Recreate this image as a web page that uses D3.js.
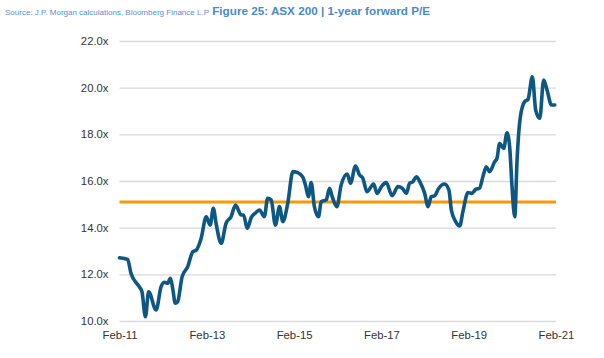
<!DOCTYPE html>
<html><head><meta charset="utf-8">
<script src="https://cdn.jsdelivr.net/npm/d3@7"></script>
<style>
html,body{margin:0;padding:0;background:#fff;}
svg{display:block;font-family:"Liberation Sans",Arial,sans-serif;}
</style></head>
<body>
<svg id="chart" width="604" height="358"></svg>
<script>
const dates = ["2011-02-01","2011-04-10","2011-05-08","2011-07-16","2011-08-08","2011-09-06","2011-10-03","2011-12-04",
"2012-01-15","2012-02-12","2012-03-10","2012-04-02","2012-04-21","2012-05-13","2012-06-02","2012-07-09","2012-08-25","2012-10-06","2012-11-04","2012-12-15",
"2013-01-27","2013-03-01","2013-03-27","2013-04-19","2013-06-01","2013-07-12","2013-08-23","2013-09-29","2013-11-16","2013-12-05",
"2014-01-05","2014-02-08","2014-03-20","2014-04-17","2014-05-28","2014-06-25","2014-07-24","2014-08-29","2014-10-02","2014-10-30","2014-12-10",
"2015-01-22","2015-03-03","2015-04-14","2015-05-07","2015-06-01","2015-06-24","2015-07-21","2015-08-24","2015-09-16","2015-10-28","2015-11-25","2015-12-17",
"2016-01-25","2016-03-01","2016-04-21","2016-05-18","2016-06-29","2016-08-02","2016-08-30","2016-10-03","2016-11-28","2016-12-26",
"2017-02-01","2017-03-13","2017-05-02","2017-06-19","2017-07-25","2017-08-28","2017-09-25","2017-10-22","2017-11-20","2017-12-23",
"2018-01-29","2018-02-26","2018-03-25","2018-04-21","2018-05-27","2018-07-14","2018-08-20","2018-09-09","2018-10-15","2018-11-18","2018-12-15",
"2019-01-27","2019-02-25","2019-04-01","2019-05-03","2019-05-31","2019-06-29","2019-07-26","2019-09-07","2019-09-26","2019-10-18","2019-11-21","2019-12-19",
"2020-01-10","2020-01-30","2020-02-22","2020-03-11","2020-04-09","2020-05-15","2020-06-12","2020-07-18","2020-08-15","2020-09-18","2020-10-21","2020-11-18","2020-12-25","2021-01-22"];
const peValues = [12.71,12.64,12.04,11.47,11.25,10.18,11.25,10.47,
11.47,11.66,11.62,11.83,11.40,10.76,10.83,11.90,12.33,12.97,13.04,13.54,
14.47,14.11,14.83,14.19,13.33,14.19,14.47,14.97,14.54,14.54,
13.97,14.44,14.65,14.76,14.47,15.26,15.19,14.11,14.90,14.26,15.04,
16.40,16.36,16.18,15.83,15.33,15.93,14.90,14.47,15.11,15.19,15.69,15.33,
14.90,15.83,16.30,15.90,16.64,16.26,16.11,15.54,15.87,15.47,
15.76,15.93,15.37,15.76,15.69,15.47,15.90,15.97,16.18,15.93,
15.47,14.90,15.33,15.36,15.69,15.87,15.61,14.76,14.26,14.07,14.69,
15.51,15.47,15.64,15.69,16.18,16.61,16.40,16.83,16.97,17.61,17.40,18.07,
17.47,15.76,14.47,16.76,18.76,19.40,19.50,20.47,19.04,18.69,20.33,19.90,19.26,19.26];
const averagePE = 15.1;
const yTicks = [10,12,14,16,18,20,22];
const xTickDates = ["2011-02-01","2013-02-01","2015-02-01","2017-02-01","2019-02-01","2021-02-01"];
const xTickLabels = ["Feb-11","Feb-13","Feb-15","Feb-17","Feb-19","Feb-21"];
const sourceText = "Source: J.P. Morgan calculations, Bloomberg Finance L.P";
const titleText = "Figure 25: ASX 200 | 1-year forward P/E";

(function(){
const parse = d3.timeParse("%Y-%m-%d");
const data = dates.map((d,i)=>({date:parse(d), value:peValues[i]}));

const svg = d3.select("#chart");
const mLeft = 119.5, mRight = 556, mTop = 41, mBottom = 321;

const x = d3.scaleTime().domain([parse(xTickDates[0]), parse(xTickDates[xTickDates.length-1])]).range([mLeft, mRight]);
const y = d3.scaleLinear().domain([10,22]).range([mBottom, mTop]);

// header
const head = svg.append("text").attr("x",5).attr("y",14.5);
head.append("tspan").text(sourceText).attr("font-size",8).attr("fill","#5b8fcf");
head.append("tspan").text(" " + titleText).attr("font-size",11.7).attr("font-weight","bold").attr("fill","#4a8ac6");

// gridlines
const yAxis = d3.axisLeft(y).tickValues(yTicks).tickSize(-(mRight-mLeft)).tickFormat(d=>d3.format(".1f")(d)+"x").tickPadding(11);
const gy = svg.append("g").attr("transform",`translate(${mLeft},0)`).call(yAxis);
gy.select(".domain").remove();
gy.selectAll(".tick line").attr("stroke","#d9d9d9").attr("stroke-width",1.3);
gy.selectAll(".tick text").attr("font-size",11.3).attr("fill","#333").attr("font-family","Liberation Sans, Arial, sans-serif");

const xAxis = d3.axisBottom(x).tickValues(xTickDates.map(parse)).tickSize(0).tickPadding(10)
  .tickFormat((d,i)=>xTickLabels[i]);
const gx = svg.append("g").attr("transform",`translate(0,${mBottom})`).call(xAxis);
gx.select(".domain").remove();
gx.selectAll(".tick text").attr("font-size",11.3).attr("fill","#333").attr("font-family","Liberation Sans, Arial, sans-serif");

// average line
svg.append("line").attr("x1",mLeft).attr("x2",mRight).attr("y1",y(averagePE)).attr("y2",y(averagePE))
  .attr("stroke","#f59a0c").attr("stroke-width",3);

// series
const line = d3.line().x(d=>x(d.date)).y(d=>y(d.value)).curve(d3.curveMonotoneX);
svg.append("path").datum(data).attr("d",line).attr("fill","none")
  .attr("stroke","#0d5782").attr("stroke-width",3.6).attr("stroke-linejoin","round").attr("stroke-linecap","round");
})();
</script>
</body></html>
